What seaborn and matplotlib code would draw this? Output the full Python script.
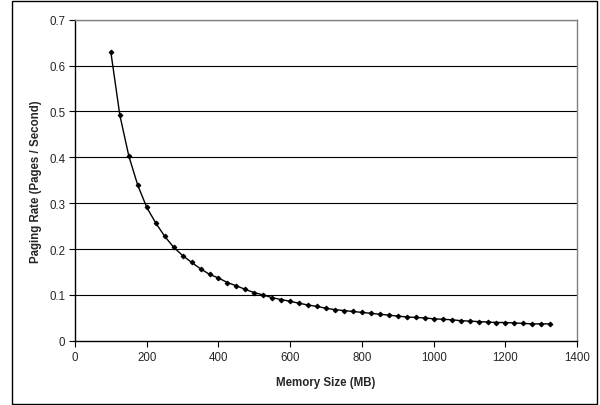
import pandas as pd
import seaborn as sns
import matplotlib.pyplot as plt
from matplotlib.patches import Rectangle

# 数据：内存大小 (MB) 与分页率
memory_mb = list(range(100, 1326, 25))
paging_rate = [
    0.629, 0.492, 0.403, 0.339, 0.291, 0.257, 0.228, 0.204, 0.186, 0.171,
    0.157, 0.145, 0.137, 0.127, 0.120, 0.112, 0.105, 0.100, 0.094, 0.090,
    0.086, 0.082, 0.078, 0.075, 0.071, 0.068, 0.066, 0.064, 0.062, 0.060,
    0.058, 0.056, 0.054, 0.052, 0.051, 0.050, 0.048, 0.047, 0.046, 0.044,
    0.043, 0.042, 0.041, 0.040, 0.040, 0.039, 0.038, 0.037, 0.037, 0.037,
]
x_ticks = [0, 200, 400, 600, 800, 1000, 1200, 1400]
y_ticks = [0, 0.1, 0.2, 0.3, 0.4, 0.5, 0.6, 0.7]

df = pd.DataFrame({"mem": memory_mb, "rate": paging_rate})

sns.set_theme(style="white")
plt.rcParams["font.family"] = ["Liberation Sans", "DejaVu Sans"]

fig = plt.figure(figsize=(6.0, 4.06), dpi=100)
ax = fig.add_axes([0.125, 0.158, 0.837, 0.791])

sns.lineplot(data=df, x="mem", y="rate", ax=ax, color="black", linewidth=1,
             marker="D", markersize=2.4, markeredgecolor="black", markerfacecolor="black")

ax.set_xlim(0, 1400)
ax.set_ylim(0, 0.7)
ax.set_xticks(x_ticks)
ax.set_xticklabels([str(t) for t in x_ticks])
ax.set_yticks(y_ticks)
ax.set_yticklabels(["0" if t == 0 else f"{t:.1f}" for t in y_ticks])

# 水平网格线
for t in y_ticks[1:]:
    ax.axhline(t, color="black", linewidth=0.8, zorder=0)

for side in ["left", "bottom"]:
    ax.spines[side].set_color("black")
    ax.spines[side].set_linewidth(1)
for side in ["top", "right"]:
    ax.spines[side].set_color("#808080")
    ax.spines[side].set_linewidth(1)

ax.tick_params(axis="both", direction="out", length=4, width=0.8, color="black",
               labelsize=8.3, pad=3, bottom=True, left=True)

ax.set_xlabel("Memory Size (MB)", fontsize=8.3, fontweight="bold", labelpad=10)
ax.set_ylabel("Paging Rate (Pages / Second)", fontsize=8.3, fontweight="bold", labelpad=5)

# 外框
fig.patches.append(Rectangle((12 / 600, 1 / 406), 585 / 600, 403 / 406,
                             transform=fig.transFigure, fill=False,
                             edgecolor="black", linewidth=1))

plt.savefig("out.png", dpi=100)
